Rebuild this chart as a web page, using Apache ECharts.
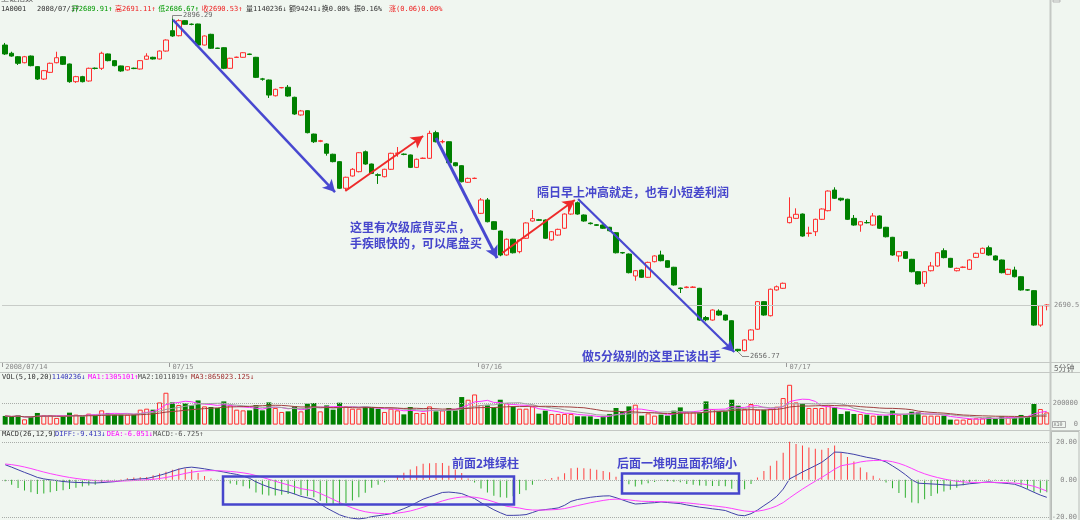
<!DOCTYPE html>
<html><head><meta charset="utf-8">
<script src="https://cdn.jsdelivr.net/npm/echarts@6/dist/echarts.min.js"></script>
<style>html,body{margin:0;padding:0;background:#f0f6f0;}#c{width:1080px;height:520px;}</style>
</head><body><div id="c"></div>
<script>
// [open, close, low, high] per 5-minute bar
const candles = [
[2877.1,2870.7,2870.0,2878.6],[2871.2,2869.2,2868.7,2872.3],[2868.7,2864.0,2862.8,2869.2],[2864.4,2868.7,2864.0,2869.3],
[2869.2,2862.3,2861.8,2869.6],[2861.6,2852.7,2852.0,2862.0],[2852.7,2858.7,2852.0,2859.2],[2857.5,2864.0,2857.0,2864.5],
[2864.4,2868.0,2864.0,2872.3],[2868.7,2863.3,2862.8,2869.0],[2863.5,2850.8,2850.0,2863.8],[2850.8,2854.4,2849.9,2855.0],
[2854.4,2850.8,2850.3,2855.0],[2851.3,2860.4,2850.8,2860.9],[2860.5,2860.3,2859.6,2861.0],[2860.4,2871.2,2859.2,2872.3],
[2870.7,2865.9,2865.4,2871.0],[2865.9,2862.3,2861.8,2866.2],[2862.1,2858.5,2857.9,2862.3],[2859.2,2861.6,2858.8,2862.0],
[2860.5,2860.2,2859.8,2860.9],[2859.9,2865.9,2859.5,2866.2],[2866.9,2869.2,2866.5,2871.2],[2868.3,2867.1,2866.7,2868.7],
[2867.1,2872.8,2866.7,2873.2],[2872.8,2880.7,2872.4,2881.2],[2887.4,2883.6,2883.0,2896.29],[2883.8,2894.6,2883.3,2895.6],
[2894.6,2892.0,2891.6,2895.0],[2892.1,2891.9,2891.3,2892.6],[2892.2,2877.1,2876.6,2892.4],[2877.1,2883.6,2876.8,2884.0],
[2884.8,2874.8,2874.3,2885.2],[2874.9,2874.7,2874.3,2875.2],[2875.2,2860.4,2859.8,2875.5],[2860.4,2867.6,2860.0,2868.0],
[2868.2,2868.4,2867.8,2868.8],[2868.3,2871.6,2868.0,2872.0],[2870.6,2870.4,2869.9,2870.9],[2868.3,2853.9,2853.4,2868.6],
[2852.8,2852.6,2851.5,2853.5],[2852.0,2841.2,2839.1,2852.3],[2840.7,2845.3,2840.2,2845.8],[2846.4,2846.6,2846.0,2847.0],
[2846.8,2840.5,2840.0,2848.4],[2839.6,2827.6,2827.0,2840.0],[2826.9,2829.8,2826.4,2830.5],[2830.0,2814.2,2813.7,2830.3],
[2813.2,2807.7,2806.8,2813.5],[2808.0,2808.4,2807.4,2809.0],[2806.1,2799.4,2797.7,2806.6],[2798.7,2793.4,2792.9,2799.1],
[2793.4,2774.3,2773.8,2793.7],[2774.3,2782.2,2773.0,2782.6],[2783.1,2787.9,2782.7,2788.8],[2786.2,2799.8,2785.7,2800.3],
[2800.5,2791.7,2791.2,2801.4],[2791.7,2785.0,2784.5,2792.0],[2784.0,2783.6,2777.4,2785.0],[2782.6,2787.9,2782.1,2788.3],
[2787.9,2799.4,2787.4,2799.8],[2799.3,2799.6,2796.9,2803.9],[2798.8,2798.6,2798.0,2799.3],[2798.2,2789.3,2788.8,2798.5],
[2789.3,2795.1,2788.8,2795.6],[2795.7,2795.9,2795.3,2796.4],[2795.8,2813.7,2795.3,2815.6],[2814.2,2807.7,2807.2,2815.6],
[2807.6,2807.8,2806.5,2809.1],[2807.7,2792.6,2792.1,2808.0],[2792.6,2790.5,2790.0,2792.9],[2790.5,2779.0,2778.5,2790.8],
[2778.6,2781.4,2778.1,2781.9],[2781.3,2781.5,2780.9,2782.0],
[2756.3,2765.9,2755.8,2767.3],[2765.9,2750.3,2749.8,2767.3],[2750.3,2744.8,2744.3,2750.6],[2743.6,2726.4,2725.5,2744.0],
[2726.4,2737.7,2725.9,2738.2],[2737.7,2728.0,2727.5,2738.0],[2728.8,2737.2,2727.6,2737.6],[2738.4,2749.4,2738.0,2749.9],
[2750.8,2752.5,2750.3,2758.7],[2751.7,2751.3,2750.8,2752.3],[2751.5,2738.4,2737.9,2751.9],[2737.2,2743.1,2736.7,2743.6],
[2740.7,2744.8,2740.2,2745.3],[2745.6,2755.8,2745.1,2756.3],[2755.8,2763.5,2755.3,2764.0],[2763.9,2755.8,2755.3,2764.8],
[2755.1,2750.8,2750.3,2755.5],[2749.3,2748.9,2748.3,2749.8],[2748.1,2747.7,2747.2,2748.6],[2747.9,2745.6,2745.1,2748.3],
[2746.3,2743.8,2743.3,2746.6],[2742.4,2728.0,2727.5,2742.8],[2728.1,2727.9,2727.3,2728.6],[2727.1,2713.7,2713.2,2727.5],
[2711.3,2715.1,2707.9,2715.5],[2715.6,2710.4,2709.9,2716.0],[2710.4,2721.1,2709.9,2721.6],[2721.6,2725.7,2721.1,2726.2],
[2726.4,2722.3,2721.8,2729.5],[2722.3,2717.6,2717.1,2722.6],[2717.6,2704.9,2704.4,2717.9],[2702.7,2702.3,2699.1,2703.0],
[2703.0,2703.4,2702.6,2703.9],[2703.1,2703.4,2702.7,2704.0],[2702.5,2679.7,2679.2,2702.8],[2681.5,2679.9,2678.8,2682.6],
[2679.7,2686.9,2679.2,2687.4],[2686.2,2683.3,2682.8,2687.4],[2683.3,2679.7,2679.2,2683.6],[2679.2,2658.7,2658.2,2679.5],
[2658.7,2657.7,2656.77,2659.0],[2657.7,2665.4,2657.2,2665.9],[2665.4,2672.6,2664.9,2673.1],[2673.1,2692.9,2672.6,2693.4],
[2692.9,2683.3,2682.8,2693.2],[2682.8,2701.8,2682.3,2702.3],[2701.3,2703.6,2700.8,2704.5],[2702.5,2706.1,2702.0,2706.6],
[2749.6,2753.5,2749.1,2767.8],[2752.7,2755.6,2752.2,2759.9],[2755.8,2740.0,2739.5,2756.2],[2741.8,2742.2,2739.5,2746.7],
[2743.1,2752.0,2740.0,2752.5],[2752.0,2759.4,2751.5,2759.9],[2758.2,2772.3,2757.7,2772.8],[2773.0,2767.1,2766.6,2775.0],
[2767.1,2765.9,2765.0,2767.5],[2766.4,2752.0,2751.5,2766.8],[2752.7,2747.9,2747.4,2755.1],[2747.9,2750.3,2743.1,2750.8],
[2749.7,2749.5,2749.0,2751.5],[2747.9,2754.4,2747.4,2756.5],[2754.4,2745.6,2745.1,2754.8],[2746.3,2739.5,2739.0,2746.6],
[2739.1,2726.4,2725.9,2739.4],[2725.7,2728.8,2721.6,2729.3],[2728.8,2724.0,2723.5,2729.2],[2723.3,2714.4,2713.9,2723.6],
[2714.4,2705.6,2705.1,2714.7],[2706.1,2714.4,2703.6,2714.9],[2715.1,2718.5,2714.6,2721.4],[2718.5,2728.0,2718.0,2728.5],
[2729.5,2724.5,2724.0,2731.2],[2724.0,2717.6,2717.1,2724.3],[2715.1,2716.8,2714.6,2717.3],[2717.5,2717.7,2717.0,2718.2],
[2716.1,2722.8,2715.6,2723.3],[2724.7,2727.6,2724.2,2728.1],[2727.6,2731.2,2727.1,2731.7],[2731.6,2726.4,2725.9,2733.1],
[2725.7,2722.8,2722.3,2726.1],[2722.8,2713.7,2713.2,2723.1],[2712.5,2716.1,2712.0,2716.6],[2715.6,2710.8,2710.3,2718.0],
[2710.8,2701.3,2700.8,2711.1],[2701.4,2701.2,2700.6,2701.8],[2700.8,2676.1,2675.6,2701.1],[2676.1,2690.0,2674.9,2690.5],
[2689.91,2690.53,2686.67,2691.11]
];
const volumes = [
809000,716000,865000,493000,716000,1088000,865000,865000,623000,716000,
1116000,930000,772000,1023000,865000,1330000,1088000,958000,930000,930000,
958000,1395000,1488000,1395000,2074000,2976000,2074000,1832000,1981000,1795000,
2260000,1702000,1646000,1553000,2167000,1795000,1395000,1330000,1330000,1832000,
1330000,2074000,1553000,1181000,1237000,1702000,1237000,1953000,2018000,1237000,
1795000,1395000,2046000,1702000,1488000,1488000,1702000,1553000,1488000,1181000,
1488000,1330000,958000,1646000,1088000,1088000,1702000,1237000,1330000,1553000,
1330000,2576000,2325000,2818000,1832000,1795000,1581000,2325000,2018000,1702000,
1488000,1488000,1702000,1023000,
1302000,995000,995000,995000,995000,772000,772000,772000,530000,772000,
995000,1553000,1237000,1702000,1860000,837000,1051000,837000,930000,837000,
1302000,1609000,1144000,1144000,1144000,2167000,1460000,1237000,1237000,2325000,
1767000,1460000,1925000,1395000,1395000,1460000,1674000,2483000,3720000,2074000,
1925000,1553000,1553000,1553000,1767000,1609000,995000,1237000,995000,995000,
930000,837000,837000,837000,1302000,930000,930000,1209000,1144000,837000,
837000,837000,837000,465000,465000,465000,530000,586000,586000,679000,
530000,772000,679000,679000,902000,772000,1925000,1460000,1140236
];
const diff = [
8.1,6.8,5.4,4.0,2.7,1.3,0.5,0.0,-0.4,-0.9,-1.2,-1.4,-1.5,-1.6,-1.7,
-1.5,-1.25,
-1.0,-0.5,-0.1,0.2,0.5,0.7,1.5,2.4,3.4,4.6,5.7,6.5,6.8,6.4,5.9,5.3,4.8,4.2,3.5,2.9,2.0,0.8,-1.1,-2.6,-3.9,-5.0,-5.8,-6.5,-7.6,-8.9,
-9.7,
-10.6,-13.0,-15.2,-17.0,-18.8,-20.0,-20.7,-21.0,-20.6,-19.8,-19.3,-18.8,-18.2,-16.8,-15.5,-14.0,-12.2,-10.4,-9.2,-8.0,-6.8,-6.6,-6.9,-7.4,-8.8,-10.1,-12.3,-14.2,-16.1,-17.7,-19.1,
-19.1,
-19.0,-18.7,-17.6,-16.4,
-16.0,-15.6,-15.1,-13.7,-11.6,-10.6,-10.0,-9.4,-9.0,-8.7,-8.6,-9.6,-10.8,-12.0,-13.0,-12.8,
-12.5,
-12.3,-11.9,-12.2,-12.5,-12.8,-13.5,-14.1,-14.7,-15.1,-15.6,-16.0,-16.5,-17.8,-19.0,-19.3,-18.2,-16.3,-13.9,-11.6,-8.9,-5.0,0.5,2.3,4.2,5.9,7.6,9.4,12.0,14.9,14.8,
14.3,
13.7,12.9,12.1,11.5,10.8,9.6,7.5,5.3,2.8,0.0,-1.8,-2.0,-2.2,-2.4,-2.7,-2.9,-2.9,-2.6,-2.1,-1.8,-1.4,-1.1,-1.5,-1.7,-2.0,-2.4,
-3.6,-5.1,-6.7,-8.2,-9.413
];
const dea = [
8.5,8.16,7.61,6.89,6.05,5.10,4.18,3.34,2.59,1.89,1.27,0.74,0.29,-0.09,-0.41,
-0.63,-0.67,
-0.70,-0.66,-0.55,-0.40,-0.22,-0.04,0.27,0.70,1.24,1.91,2.67,3.44,4.11,4.57,4.84,4.93,4.90,4.76,4.51,4.19,3.75,3.16,2.31,1.33,0.28,-0.78,-1.78,-2.72,-3.70,-4.74,
-5.3,
-5.91,-7.33,-8.90,-10.52,-12.18,-13.74,-15.13,-16.30,-17.16,-17.69,-18.01,-18.17,-18.18,-17.90,-17.42,-16.74,-15.83,-14.74,-13.63,-12.50,-11.36,-10.41,-9.71,-9.25,-9.16,-9.35,-9.94,-10.79,-11.85,-13.02,-14.24,
-14.7,
-15.19,-15.89,-16.23,-16.26,
-16.22,-16.10,-15.90,-15.46,-14.69,-13.87,-13.10,-12.36,-11.69,-11.09,-10.59,-10.39,-10.47,-10.78,-11.22,-11.54,
-11.6,
-11.69,-11.73,-11.82,-11.96,-12.13,-12.40,-12.74,-13.13,-13.52,-13.94,-14.35,-14.78,-15.38,-16.10,-16.74,-17.03,-16.88,-16.28,-15.35,-14.06,-12.25,-9.70,-7.30,-5.00,-2.82,-0.74,1.29,3.43,5.72,7.54,
8.2,
8.77,9.60,10.10,10.38,10.46,10.29,9.73,8.84,7.63,6.10,4.52,3.22,2.14,1.23,0.44,-0.23,-0.77,-1.14,-1.33,-1.42,-1.42,-1.36,-1.39,-1.45,-1.56,-1.73,
-2.1,-2.7,-3.5,-4.7,-6.051
];
const macd = [
-0.8,-2.7,-4.4,-5.8,-6.7,-7.6,-7.4,-6.7,-6.0,-5.6,-4.9,-4.3,-3.6,-3.0,-2.6,
-1.7,-1.2,
-0.6,0.3,0.9,1.2,1.4,1.5,2.5,3.4,4.3,5.4,6.1,6.1,5.4,3.7,2.1,0.7,-0.2,-1.1,-2.0,-2.6,-3.5,-4.7,-6.8,-7.9,-8.4,-8.4,-8.0,-7.6,-7.8,-8.3,
-8.8,
-9.4,-11.3,-12.6,-13.0,-13.2,-12.5,-11.1,-9.4,-6.9,-4.2,-2.6,-1.3,0.0,2.2,3.8,5.5,7.3,8.7,8.9,9.0,9.1,7.6,5.6,3.7,0.7,-1.5,-4.7,-6.8,-8.5,-9.4,-9.7,
-8.8,
-7.6,-5.6,-2.7,-0.3,
0.4,1.0,1.6,3.5,6.2,6.5,6.2,5.9,5.4,4.8,4.0,1.6,-0.7,-2.4,-3.6,-2.5,
-1.8,
-1.2,-0.3,-0.8,-1.1,-1.3,-2.2,-2.7,-3.1,-3.2,-3.3,-3.3,-3.4,-4.8,-5.8,-5.1,-2.3,1.2,4.8,7.5,10.3,14.5,20.4,19.2,18.4,17.4,16.7,16.2,17.1,18.4,14.5,
12.2,
9.9,6.6,4.0,2.2,0.7,-1.4,-4.5,-7.1,-9.7,-12.2,-12.6,-10.4,-8.7,-7.3,-6.3,-5.3,-4.3,-2.9,-1.5,-0.8,0.0,0.5,-0.2,-0.5,-0.9,-1.3,
-3.0,-4.8,-6.4,-7.0,-6.725
];
const dayLabels = ['2008/07/14', '07/15', '07/16', '07/17'];
const dayStarts = [0, 26, 74, 122];
const priceTicks = [2690.5];
const volTicks = [2000000, 0];
const macdTicks = [20, 0, -20];
// annotation arrows: [barIndex, price] -> [barIndex, price]
const arrows = [
  { from: [26.1, 2895.1], to: [51.3, 2771.6], color: '#4848d0', width: 2.5 },
  { from: [52.9, 2772.3], to: [65.0, 2811.8], color: '#ee2a2a', width: 2 },
  { from: [67.0, 2810.4], to: [76.5, 2724.2], color: '#4848d0', width: 3 },
  { from: [77.3, 2727.8], to: [88.6, 2765.9], color: '#ee2a2a', width: 2 },
  { from: [89.1, 2766.6], to: [113.4, 2656.8], color: '#4848d0', width: 2.2 }
];
const categories = candles.map((_, i) => String(i));

const BG = '#f0f6f0', RED = '#ff3030', GREEN = '#008000';
function sma(arr, n) {
  return arr.map((_, i) => { const s = Math.max(0, i - n + 1); let t = 0; for (let k = s; k <= i; k++) t += arr[k]; return Math.round(t / (i - s + 1)); });
}
const volItems = volumes.map((v, i) => {
  const up = candles[i][1] >= candles[i][0];
  return { value: v, itemStyle: up ? { color: BG, borderColor: RED, borderWidth: 1 } : { color: GREEN, borderColor: GREEN, borderWidth: 0 } };
});
const macdItems = macd.map(v => ({ value: v, itemStyle: { color: v >= 0 ? '#ff4040' : '#30b030' } }));

let hiIdx = 0, loIdx = 0;
candles.forEach((c, i) => { if (c[3] > candles[hiIdx][3]) hiIdx = i; if (c[2] < candles[loIdx][2]) loIdx = i; });
const hiVal = candles[hiIdx][3], loVal = candles[loIdx][2];

const MONO = '"DejaVu Sans Mono", "Noto Sans CJK SC", monospace';
const CJK = '"Noto Sans CJK SC", sans-serif';
function txt(x, y, s, color, font, align) {
  return { type: 'text', x: x, y: y, silent: true, z: 100,
    style: { text: s, fill: color, font: font || ('7px ' + MONO), textAlign: align || 'left', align: align || 'left', textVerticalAlign: 'middle', verticalAlign: 'middle' } };
}
function hline(x1, x2, y, color, w) {
  return { type: 'line', silent: true, z: 99, shape: { x1: x1, y1: y, x2: x2, y2: y }, style: { stroke: color, lineWidth: w || 1 } };
}
function rect(x, y, w, h, color, lw) {
  return { type: 'rect', silent: true, z: 99, shape: { x: x, y: y, width: w, height: h }, style: { fill: 'none', stroke: color, lineWidth: lw } };
}
const ANN = '#4646cc';
const annFont = 'bold 12px ' + CJK;

const graphics = [
  { type: 'rect', silent: true, z: 98, shape: { x: 1051.5, y: 312, width: 28.5, height: 60 }, style: { fill: BG, stroke: 'none' } },
  txt(1, -2, '上证指数', '#555', '8px ' + CJK),
  txt(1, 9, '1A0001', '#333'), txt(37, 9, '2008/07/17', '#333'),
  txt(71.7, 9, '开2689.91↑', '#009900'), txt(115, 9, '高2691.11↑', '#ee2222'),
  txt(158.3, 9, '低2686.67↑', '#009900'), txt(201.7, 9, '收2690.53↑', '#ee2222'),
  txt(246, 9, '量1140236↓', '#333'), txt(289, 9, '额94241↓', '#333'),
  txt(321.7, 9, '换0.00%', '#333'), txt(354, 9, '振0.16%', '#333'),
  txt(389, 9, '涨(0.06)0.00%', '#ee2222'),
  txt(2, 377.5, 'VOL(5,10,20)', '#333'), txt(51.7, 377.5, '1140236↓', '#3333bb'),
  txt(88, 377.5, 'MA1:1305101↑', '#ff00ff'), txt(137.7, 377.5, 'MA2:1011019↑', '#555'),
  txt(191, 377.5, 'MA3:865023.125↓', '#a03030'),
  txt(2, 434.5, 'MACD(26,12,9)', '#333'), txt(55, 434.5, 'DIFF:-9.413↓', '#3333bb'),
  txt(106.7, 434.5, 'DEA:-6.051↓', '#ff00ff'), txt(153, 434.5, 'MACD:-6.725↑', '#555'),
  { type: 'line', silent: true, z: 99, shape: { x1: 1050.5, y1: 0, x2: 1050.5, y2: 520 }, style: { stroke: '#c4c8c4', lineWidth: 2 } },
  hline(0, 1080, 362.5, '#c4c8c4', 1), hline(0, 1080, 372.5, '#c4c8c4', 1), hline(0, 1080, 430.5, '#c4c8c4', 1),
  txt(1054, 368, '5分钟', '#666', '8px ' + CJK),
  rect(1052.5, 421.5, 13, 6, '#999', 0.8), txt(1053.5, 424.7, 'X10', '#777', '5px ' + MONO),
  rect(1051.5, 431.5, 27.5, 90, '#b8bcb8', 1),
  rect(1053, 0, 7, 2, '#aaa', 0.8),
  txt(350, 227, '这里有次级底背买点，', ANN, annFont),
  txt(350, 243, '手疾眼快的，可以尾盘买', ANN, annFont),
  txt(537, 192, '隔日早上冲高就走，也有小短差利润', ANN, annFont),
  txt(582, 356, '做5分级别的这里正该出手', ANN, annFont),
  txt(485.5, 463, '前面2堆绿柱', ANN, annFont, 'center'),
  txt(677, 463, '后面一堆明显面积缩小', ANN, annFont, 'center'),
  rect(223, 476.5, 291, 28, ANN, 2.5),
  rect(622, 473.5, 117, 20, ANN, 2.5)
];
if (candles.length !== 163 || volumes.length !== 163 || diff.length !== 163 || dea.length !== 163 || macd.length !== 163) {
  graphics.push(txt(500, 100, 'LEN ' + [candles.length, volumes.length, diff.length, dea.length, macd.length].join(','), '#f00', '20px sans-serif'));
}

const grids = [
  { left: 2, top: 0, width: 1048, height: 362, outerBoundsMode: 'none', containLabel: false },
  { left: 2, top: 380, width: 1048, height: 44.6, outerBoundsMode: 'none', containLabel: false },
  { left: 2, top: 436, width: 1048, height: 84, outerBoundsMode: 'none', containLabel: false }
];
const hiddenCat = (g) => ({ type: 'category', gridIndex: g, data: categories, boundaryGap: true, show: false });
const dotted = (vals) => ({ silent: true, symbol: 'none', label: { show: false }, lineStyle: { color: '#a8aca8', type: 'dotted', width: 1 }, data: vals.map(v => ({ yAxis: v })) });

const arrowLines = arrows.map(a => [
  { coord: a.from, symbol: 'none', lineStyle: { color: a.color, width: a.width, type: 'solid' } },
  { coord: a.to, symbol: 'arrow' }
]);
const leaderStyle = { color: '#888', width: 1, type: 'solid' };
const leaderLines = [
  [{ coord: [hiIdx, hiVal], symbol: 'none', lineStyle: leaderStyle }, { coord: [hiIdx, hiVal + 1.9], symbol: 'none' }],
  [{ coord: [hiIdx, hiVal + 1.9], symbol: 'none', lineStyle: leaderStyle }, { coord: [hiIdx + 1.5, hiVal + 1.9], symbol: 'none' }],
  [{ coord: [loIdx, loVal], symbol: 'none', lineStyle: leaderStyle }, { coord: [loIdx + 0.6, loVal - 2.9], symbol: 'none' }],
  [{ coord: [loIdx + 0.6, loVal - 2.9], symbol: 'none', lineStyle: leaderStyle }, { coord: [loIdx + 1.7, loVal - 2.9], symbol: 'none' }]
];

const option = {
  backgroundColor: BG,
  animation: false,
  grid: grids,
  graphic: { elements: graphics },
  xAxis: [
    { type: 'category', gridIndex: 0, data: categories, boundaryGap: true,
      axisLine: { show: false },
      axisTick: { show: true, interval: (i) => dayStarts.indexOf(i) >= 0, length: 5, lineStyle: { color: '#999' } },
      axisLabel: { show: true, interval: (i) => dayStarts.indexOf(i) >= 0, hideOverlap: false,
        margin: 2, align: 'left', color: '#888', fontSize: 7, fontFamily: MONO,
        formatter: (v, i) => { const k = dayStarts.indexOf(i); return k >= 0 ? dayLabels[k] : ''; } },
      splitLine: { show: false } },
    hiddenCat(1), hiddenCat(2),
    { type: 'value', gridIndex: 0, min: -0.5, max: 162.5, show: false }
  ],
  yAxis: [
    { type: 'value', gridIndex: 0, min: 2649.59, max: 2909.43, position: 'right', show: false },
    { type: 'value', gridIndex: 1, min: 0, max: 4168224, position: 'right',
      axisLine: { show: false }, splitLine: { show: false }, axisTick: { show: false },
      axisLabel: { show: true, customValues: volTicks, formatter: (v) => String(v / 10), color: '#888', fontSize: 7, fontFamily: MONO, margin: 28, align: 'right' } },
    { type: 'value', gridIndex: 2, min: -21.6, max: 23.55, position: 'right',
      axisLine: { show: false }, splitLine: { show: false }, axisTick: { show: false },
      axisLabel: { show: true, customValues: macdTicks, formatter: (v) => v.toFixed(2), color: '#888', fontSize: 7, fontFamily: MONO, margin: 27, align: 'right' } }
  ],
  series: [
    { type: 'candlestick', xAxisIndex: 0, yAxisIndex: 0, data: candles.map(c => [c[0], c[1], c[2], c[3]]), barWidth: 5,
      itemStyle: { color: BG, color0: GREEN, borderColor: RED, borderColor0: GREEN, borderWidth: 1 },
      markLine: { silent: true, symbol: 'none',
        label: { show: true, position: 'end', distance: 4, formatter: (p) => String(p.value), color: '#888', fontSize: 7, fontFamily: MONO },
        lineStyle: { color: '#c8ccc8', type: 'solid', width: 1 }, data: priceTicks.map(v => ({ yAxis: v })) } },
    { type: 'bar', xAxisIndex: 1, yAxisIndex: 1, data: volItems, barWidth: 5, markLine: dotted([volTicks[0]]) },
    { type: 'line', xAxisIndex: 1, yAxisIndex: 1, data: sma(volumes, 5), symbol: 'none', lineStyle: { color: '#ff33ff', width: 1 } },
    { type: 'line', xAxisIndex: 1, yAxisIndex: 1, data: sma(volumes, 10), symbol: 'none', lineStyle: { color: '#a0a0a0', width: 1 } },
    { type: 'line', xAxisIndex: 1, yAxisIndex: 1, data: sma(volumes, 20), symbol: 'none', lineStyle: { color: '#a04040', width: 1 } },
    { type: 'bar', xAxisIndex: 2, yAxisIndex: 2, data: macdItems, barWidth: 1, markLine: dotted(macdTicks) },
    { type: 'line', xAxisIndex: 2, yAxisIndex: 2, data: diff, symbol: 'none', lineStyle: { color: '#4040a8', width: 1 } },
    { type: 'line', xAxisIndex: 2, yAxisIndex: 2, data: dea, symbol: 'none', lineStyle: { color: '#ff40ff', width: 1 } },
    { type: 'line', xAxisIndex: 3, yAxisIndex: 0, data: [], symbol: 'none',
      markLine: { silent: true, animation: false, symbolSize: [10, 12], label: { show: false }, data: arrowLines.concat(leaderLines) },
      markPoint: { silent: true, symbol: 'circle', symbolSize: 0,
        label: { show: true, position: 'right', distance: 1, color: '#666', fontSize: 7, fontFamily: MONO, formatter: (p) => p.name },
        data: [ { name: hiVal.toFixed(2), coord: [hiIdx + 1.5, hiVal + 1.9] }, { name: loVal.toFixed(2), coord: [loIdx + 1.7, loVal - 2.9] } ] } }
  ]
};
const chart = echarts.init(document.getElementById('c'), null, { renderer: 'canvas' });
chart.setOption(option);
</script>
</body></html>
